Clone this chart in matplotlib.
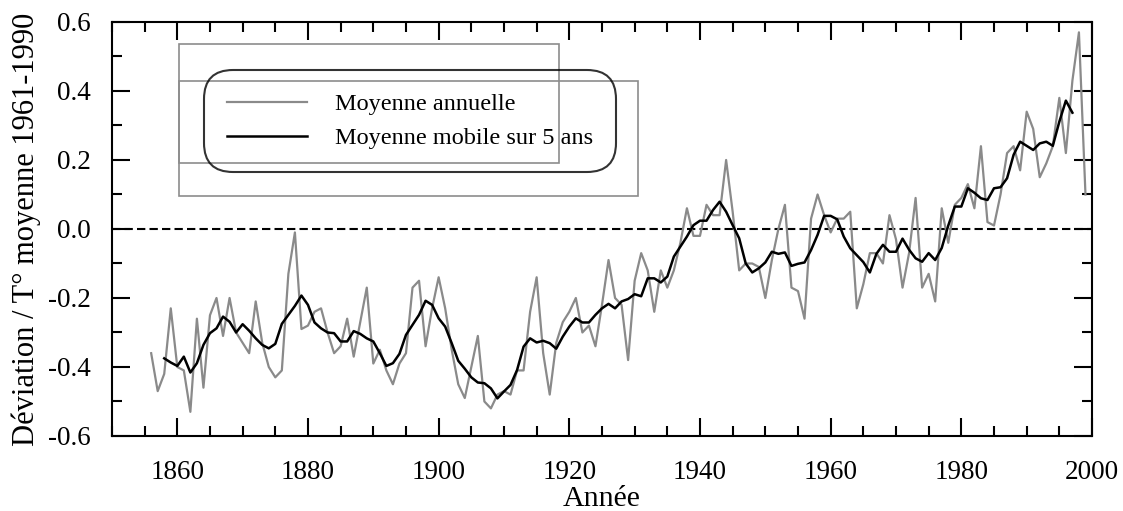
"""Déviation de température globale 1856-1999, moyenne annuelle et mobile"""
import matplotlib
matplotlib.use('Agg')
import matplotlib.pyplot as plt
from matplotlib.patches import Rectangle
from matplotlib.ticker import MultipleLocator, FormatStrFormatter

plt.rcParams['font.family'] = ['Liberation Serif', 'DejaVu Serif']
plt.rcParams['axes.unicode_minus'] = False

# moyenne annuelle 1856-1999
annees = list(range(1856, 2000))
moyenne_annuelle = [
    -0.36, -0.47, -0.42, -0.23, -0.40, -0.41, -0.53, -0.26, -0.46, -0.25,
    -0.20, -0.31, -0.20, -0.30, -0.33, -0.36, -0.21, -0.33, -0.40, -0.43,
    -0.41, -0.13, -0.01, -0.29, -0.28, -0.24, -0.23, -0.30, -0.36, -0.34,
    -0.26, -0.37, -0.27, -0.17, -0.39, -0.35, -0.41, -0.45, -0.39, -0.36,
    -0.17, -0.15, -0.34, -0.23, -0.14, -0.23, -0.35, -0.45, -0.49, -0.40,
    -0.31, -0.50, -0.52, -0.48, -0.47, -0.48, -0.41, -0.41, -0.24, -0.14,
    -0.36, -0.48, -0.33, -0.27, -0.24, -0.20, -0.30, -0.28, -0.34, -0.22,
    -0.09, -0.20, -0.22, -0.38, -0.15, -0.07, -0.12, -0.24, -0.12, -0.17,
    -0.12, -0.04, 0.06, -0.02, -0.02, 0.07, 0.04, 0.04, 0.20, 0.05,
    -0.12, -0.10, -0.10, -0.11, -0.20, -0.09, 0.00, 0.07, -0.17, -0.18,
    -0.26, 0.03, 0.10, 0.04, -0.01, 0.03, 0.03, 0.05, -0.23, -0.16,
    -0.07, -0.07, -0.10, 0.04, -0.03, -0.17, -0.07, 0.09, -0.17, -0.13,
    -0.21, 0.06, -0.04, 0.07, 0.09, 0.13, 0.06, 0.24, 0.02, 0.01,
    0.10, 0.22, 0.24, 0.17, 0.34, 0.29, 0.15, 0.19, 0.24, 0.38,
    0.22, 0.43, 0.57, 0.10,
]

# moyenne mobile sur 5 ans, 1858-1997
annees_mobile = list(range(1858, 1998))
moyenne_mobile = [
    -0.375, -0.387, -0.397, -0.370, -0.416, -0.389, -0.336, -0.302, -0.288, -0.254,
    -0.269, -0.300, -0.276, -0.295, -0.317, -0.336, -0.346, -0.333, -0.275, -0.249,
    -0.223, -0.193, -0.220, -0.271, -0.288, -0.300, -0.302, -0.326, -0.326, -0.296,
    -0.304, -0.317, -0.326, -0.360, -0.397, -0.389, -0.362, -0.307, -0.278, -0.249,
    -0.208, -0.220, -0.259, -0.283, -0.331, -0.382, -0.405, -0.430, -0.445, -0.447,
    -0.462, -0.491, -0.471, -0.452, -0.409, -0.341, -0.317, -0.329, -0.324, -0.331,
    -0.347, -0.312, -0.283, -0.259, -0.271, -0.271, -0.249, -0.230, -0.217, -0.230,
    -0.210, -0.203, -0.189, -0.195, -0.143, -0.143, -0.155, -0.138, -0.080, -0.051,
    -0.022, 0.011, 0.024, 0.024, 0.055, 0.079, 0.050, 0.011, -0.027, -0.100,
    -0.126, -0.114, -0.097, -0.066, -0.072, -0.068, -0.107, -0.101, -0.097, -0.061,
    -0.017, 0.038, 0.038, 0.028, -0.022, -0.056, -0.076, -0.096, -0.126, -0.072,
    -0.046, -0.066, -0.066, -0.028, -0.060, -0.085, -0.095, -0.070, -0.090, -0.055,
    0.010, 0.065, 0.065, 0.118, 0.105, 0.089, 0.084, 0.118, 0.121, 0.147,
    0.215, 0.253, 0.241, 0.229, 0.248, 0.253, 0.241, 0.311, 0.372, 0.337,
]

fig = plt.figure(figsize=(11.23, 5.11), dpi=100)
ax = fig.add_axes([0.0997, 0.1468, 0.8727, 0.8102])

ax.axhline(0, color='black', lw=1.5, ls=(0, (4, 2)), zorder=1)
l1, = ax.plot(annees, moyenne_annuelle, color='#8a8a8a', lw=1.6,
              label='Moyenne annuelle', zorder=2)
l2, = ax.plot(annees_mobile, moyenne_mobile, color='black', lw=1.8,
              label='Moyenne mobile sur 5 ans', zorder=3)

ax.set_xlim(1850, 2000)
ax.set_ylim(-0.6, 0.6)
ax.xaxis.set_minor_locator(MultipleLocator(5))
ax.yaxis.set_major_locator(MultipleLocator(0.2))
ax.yaxis.set_minor_locator(MultipleLocator(0.1))
ax.yaxis.set_major_formatter(FormatStrFormatter('%.1f'))
ax.set_xticks([1860, 1880, 1900, 1920, 1940, 1960, 1980, 2000])

ax.tick_params(which='both', direction='in', top=True, right=True, width=1.5)
ax.tick_params(which='major', length=13, labelsize=19.5)
ax.tick_params(which='minor', length=7.5)
ax.tick_params(axis='y', pad=15)
ax.tick_params(axis='x', pad=17)
for s in ax.spines.values():
    s.set_linewidth(1.5)

ax.set_xlabel('Année', fontsize=21.5, labelpad=1)
ax.set_ylabel('Déviation / T° moyenne 1961-1990', fontsize=22, labelpad=5)

# deux cadres gris parasites de la figure d'origine
for x0, y0, w, h in [(0.0684, 0.659, 0.3878, 0.288), (0.0684, 0.580, 0.4679, 0.277)]:
    ax.add_patch(Rectangle((x0, y0), w, h, transform=ax.transAxes, fill=False,
                           edgecolor='#8c8c8c', lw=1.2, zorder=4))

leg = ax.legend(handles=[l1, l2], loc='upper left', bbox_to_anchor=(0.0939, 0.884),
                fontsize=17.5, frameon=True, fancybox=True, handlelength=3.3,
                handletextpad=1.15, borderpad=0.95, labelspacing=0.5,
                borderaxespad=0)
frame = leg.get_frame()
frame.set_boxstyle('round', pad=0, rounding_size=1.2)
frame.set_edgecolor('black')
frame.set_facecolor('none')
frame.set_linewidth(1.5)

fig.savefig('out.png', dpi=100)
